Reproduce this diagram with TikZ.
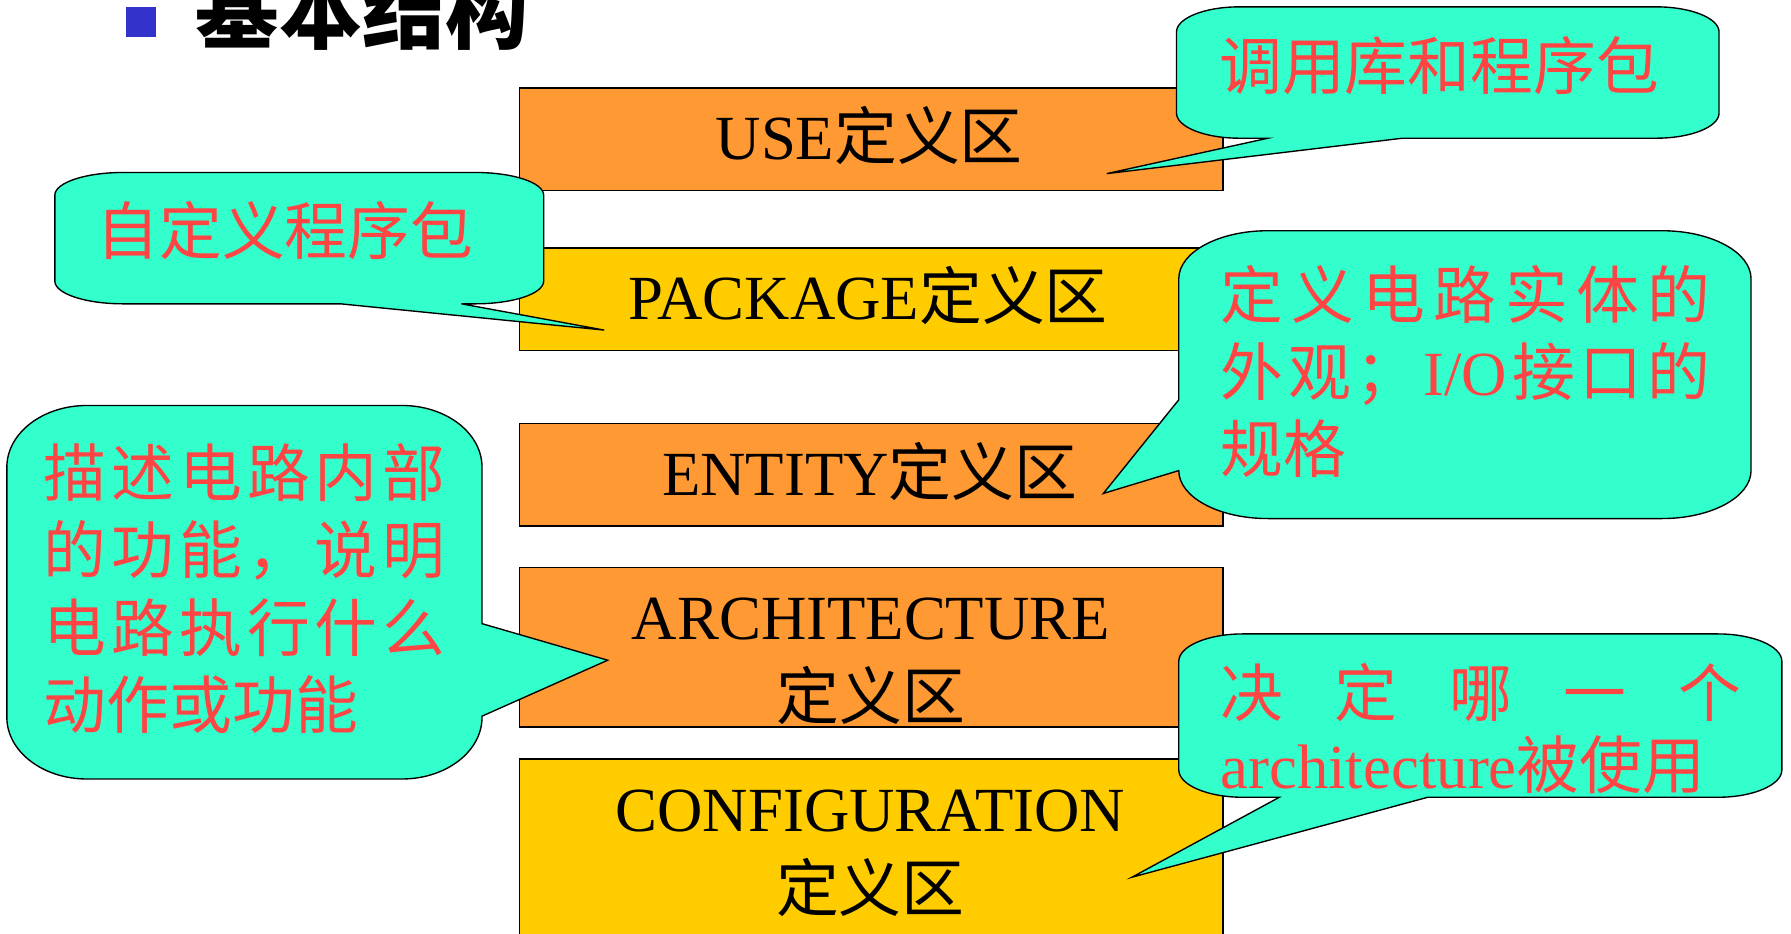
\documentclass[tikz,border=0pt]{standalone}
\usepackage{fontspec}
\setmainfont{Liberation Serif}
\newfontfamily\cjk{Noto Sans CJK SC}
\definecolor{boxorange}{HTML}{FF9933}
\definecolor{boxyellow}{HTML}{FFCC00}
\definecolor{callcyan}{HTML}{33FFCC}
\definecolor{callred}{HTML}{FF4444}
\definecolor{bulletblue}{HTML}{3333CC}
\begin{document}
\begin{tikzpicture}[x=0.5pt,y=-0.5pt,
  areabox/.style={draw=black, line width=0.8pt, inner sep=0pt, anchor=north west, minimum width=308pt},
  orangebox/.style={areabox, fill=boxorange},
  yellowbox/.style={areabox, fill=boxyellow},
  boxlabel/.style={anchor=base, inner sep=0pt, font=\fontsize{27.5}{33}\selectfont},
  bubble/.style={draw=black, line width=0.6pt, fill=callcyan, line join=miter},
  bubbletext/.style={anchor=base west, inner sep=0pt, text=callred, font=\cjk\fontsize{27.5}{33}\selectfont},
]
\useasboundingbox (0,0) rectangle (1568,817);
\clip (0,0) rectangle (1568,817);

% title
\node[fill=bulletblue, minimum width=13pt, minimum height=13pt, inner sep=0pt, anchor=north west] (bullet) at (110,6) {};
\node[anchor=base west, inner sep=0pt, font=\cjk\bfseries\fontsize{36.5}{40}\selectfont] (title) at (171,37) {基本结构};

% definition areas
\node[orangebox, minimum height=45pt] (usebox) at (454,76) {};
\node[yellowbox, minimum height=45pt] (pkgbox) at (454,216) {};
\node[orangebox, minimum height=45pt] (entbox) at (454,370) {};
\node[orangebox, minimum height=70pt] (archbox) at (454,496) {};
\node[yellowbox, minimum height=90pt] (cfgbox) at (454,664) {};

\node[boxlabel] (usetxt) at (761,139.5) {USE{\cjk 定义区}};
\node[boxlabel] (pkgtxt) at (760,280) {PACKAGE{\cjk 定义区}};
\node[boxlabel] (enttxt) at (761.5,434) {ENTITY{\cjk 定义区}};
\node[boxlabel] (archtxt) at (762.5,560) {ARCHITECTURE};
\node[boxlabel] (archtxtb) at (762.5,630) {\cjk 定义区};
\node[boxlabel] (cfgtxt) at (762,728) {CONFIGURATION};
\node[boxlabel] (cfgtxtb) at (762,798) {\cjk 定义区};

% callout 1: library / package use
\path[bubble] (1085,6) -- (1450,6) .. controls (1480.4,6) and (1505,15.9) .. (1505,28)
  -- (1505,99) .. controls (1505,111.1) and (1480.4,121) .. (1450,121)
  -- (1228,121) -- (969,152) -- (1110,121)
  -- (1085,121) .. controls (1054.6,121) and (1030,111.1) .. (1030,99)
  -- (1030,28) .. controls (1030,15.9) and (1054.6,6) .. (1085,6) -- cycle;

% callout 2: own packages
\path[bubble] (108,151) -- (416,151) .. controls (449.1,151) and (476,159.8) .. (476,171)
  -- (476,246) .. controls (476,257.2) and (449.1,266) .. (416,266)
  -- (404,266) -- (529,289) -- (298,266)
  -- (108,266) .. controls (74.9,266) and (48,257.2) .. (48,246)
  -- (48,171) .. controls (48,159.8) and (74.9,151) .. (108,151) -- cycle;

% callout 3: entity
\path[bubble] (1110,202) -- (1455,202) .. controls (1498.1,202) and (1533,220.8) .. (1533,244)
  -- (1533,412) .. controls (1533,435.2) and (1498.1,454) .. (1455,454)
  -- (1110,454) .. controls (1066.9,454) and (1032,435.2) .. (1032,412)
  -- (966,432) -- (1032,350)
  -- (1032,244) .. controls (1032,220.8) and (1066.9,202) .. (1110,202) -- cycle;

% callout 4: architecture
\path[bubble] (76,355) -- (352,355) .. controls (390.6,355) and (422,379.2) .. (422,409)
  -- (422,546) -- (532,578) -- (422,627)
  -- (422,628) .. controls (422,657.8) and (390.6,682) .. (352,682)
  -- (76,682) .. controls (37.4,682) and (6,657.8) .. (6,628)
  -- (6,409) .. controls (6,379.2) and (37.4,355) .. (76,355) -- cycle;

% callout 5: configuration
\path[bubble] (1088,555) -- (1504,555) .. controls (1534.9,555) and (1560,565.8) .. (1560,579)
  -- (1560,674) .. controls (1560,687.2) and (1534.9,698) .. (1504,698)
  -- (1250,698) -- (991,768) -- (1120,698)
  -- (1088,698) .. controls (1057.1,698) and (1032,687.2) .. (1032,674)
  -- (1032,579) .. controls (1032,565.8) and (1057.1,555) .. (1088,555) -- cycle;

% callout texts
\node[bubbletext] (usenote) at (1067,78) {调用库和程序包};
\node[bubbletext] (pkgnote) at (84,223) {自定义程序包};

\node[bubbletext] (entnotea) at (1068,279) {\hbox to 214.5pt{定\hfil 义\hfil 电\hfil 路\hfil 实\hfil 体\hfil 的}};
\node[bubbletext] (entnoteb) at (1068,346.5) {\hbox to 214.5pt{外\hfil 观\hfil ；\hfil{\rmfamily I/O}\hfil 接\hfil 口\hfil 的}};
\node[bubbletext] (entnotec) at (1068,414) {规格};

\node[bubbletext] (archnotea) at (38,435) {\hbox to 175.75pt{描\hfil 述\hfil 电\hfil 路\hfil 内\hfil 部}};
\node[bubbletext] (archnoteb) at (38,502.5) {\hbox to 175.75pt{的\hfil 功\hfil 能\hfil ，\hfil 说\hfil 明}};
\node[bubbletext] (archnotec) at (38,570) {\hbox to 175.75pt{电\hfil 路\hfil 执\hfil 行\hfil 什\hfil 么}};
\node[bubbletext] (archnoted) at (38,637.5) {动作或功能};

\node[bubbletext] (cfgnotea) at (1068,627) {\hbox to 228pt{决\hfil 定\hfil 哪\hfil 一\hfil 个}};
\node[bubbletext] (cfgnoteb) at (1068,690) {{\rmfamily architecture}被使用};
\end{tikzpicture}
\end{document}
